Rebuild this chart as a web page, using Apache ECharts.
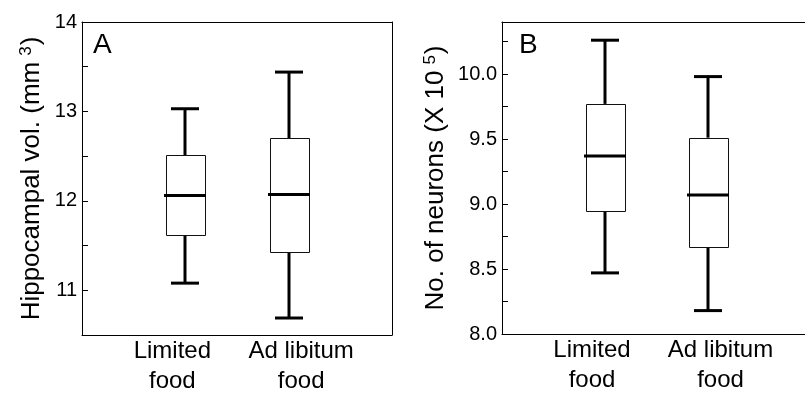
<!DOCTYPE html>
<html>
<head>
<meta charset="utf-8">
<script src="https://cdn.jsdelivr.net/npm/echarts@6/dist/echarts.min.js"></script>
<style>
    html, body { margin: 0; padding: 0; background: #fff; overflow: hidden; }
    #chart { width: 805px; height: 394px; }
</style>
</head>
<body>
<div id="chart"></div>
<script>
// groups on the x axis
var categories = ['Limited\nfood', 'Ad libitum\nfood'];

// [min, Q1, median, Q3, max] per group
var volumeStats = [
    [11.08, 11.62, 12.06, 12.51, 13.03],
    [10.69, 11.42, 12.07, 12.70, 13.44]
];
var neuronStats = [
    [8.47, 8.95, 9.37, 9.77, 10.26],
    [8.18, 8.67, 9.07, 9.51, 9.98]
];

// y axis ranges and ticks
var volumeAxis = {min: 10.5, max: 14, interval: 0.5, labelStep: 1, digits: 0};
var neuronAxis = {min: 8.0, max: 10.4, interval: 0.25, labelStep: 0.5, digits: 1};

var FONT = '"Liberation Sans", Arial, Helvetica, sans-serif';

var myChart = echarts.init(document.getElementById('chart'), null, {renderer: 'canvas'});

// boxes are drawn via the coordinate system of each grid
function renderBox(params, api) {
    var x = api.value(0);
    var pMin = api.coord([x, api.value(1)]);
    var pQ1 = api.coord([x, api.value(2)]);
    var pMed = api.coord([x, api.value(3)]);
    var pQ3 = api.coord([x, api.value(4)]);
    var pMax = api.coord([x, api.value(5)]);
    var cx = Math.round(pMed[0]);
    var boxHalf = 19.5;
    var capHalf = 14;
    var medHalf = 21;
    var r = function (v) { return Math.round(v) + 0.5; };
    var thick = {stroke: '#000', lineWidth: 3};
    return {
        type: 'group',
        children: [
            {type: 'line', shape: {x1: cx, y1: pMax[1], x2: cx, y2: pQ3[1]}, style: thick},
            {type: 'line', shape: {x1: cx, y1: pQ1[1], x2: cx, y2: pMin[1]}, style: thick},
            {type: 'line', shape: {x1: cx - capHalf, y1: pMax[1], x2: cx + capHalf, y2: pMax[1]}, style: thick},
            {type: 'line', shape: {x1: cx - capHalf, y1: pMin[1], x2: cx + capHalf, y2: pMin[1]}, style: thick},
            {
                type: 'rect',
                shape: {x: r(cx - boxHalf), y: r(pQ3[1]), width: Math.round(boxHalf * 2), height: Math.round(pQ1[1] - pQ3[1])},
                style: {fill: '#fff', stroke: '#111', lineWidth: 1}
            },
            {type: 'line', shape: {x1: cx - medHalf, y1: pMed[1], x2: cx + medHalf, y2: pMed[1]}, style: thick}
        ]
    };
}

function toBoxData(stats) {
    return stats.map(function (s, i) { return [i + 1].concat(s); });
}

var axisLine = {show: true, lineStyle: {color: '#000', width: 1}};

function makeXAxis(gridIndex) {
    return {
        type: 'category',
        gridIndex: gridIndex,
        data: [''].concat(categories, ['']),
        boundaryGap: false,
        axisLine: axisLine,
        axisTick: {show: false},
        splitLine: {show: false},
        axisLabel: {
            interval: 0,
            margin: 1,
            fontFamily: FONT,
            fontSize: 24,
            lineHeight: 30,
            color: '#000',
            formatter: function (v, idx) {
                if (!v) return '';
                var key = idx === 1 ? 'a' : 'b';
                return v.split('\n').map(function (line) { return '{' + key + '|' + line + '}'; }).join('\n');
            },
            rich: {
                a: {fontFamily: FONT, fontSize: 24, lineHeight: 30, color: '#000', padding: [0, 26, 0, 0]},
                b: {fontFamily: FONT, fontSize: 24, lineHeight: 30, color: '#000', padding: [0, 0, 0, 25]}
            }
        }
    };
}

function makeYAxis(gridIndex, ax, name, sup, nameGap) {
    return {
        type: 'value',
        gridIndex: gridIndex,
        min: ax.min,
        max: ax.max,
        interval: ax.interval,
        axisLine: axisLine,
        axisTick: {show: true, inside: true, length: 6, lineStyle: {color: '#000', width: 1}},
        splitLine: {show: false},
        axisLabel: {
            margin: 5,
            fontFamily: FONT,
            fontSize: 20,
            color: '#000',
            showMaxLabel: true,
            formatter: function (v) {
                var k = v / ax.labelStep;
                if (Math.abs(k - Math.round(k)) > 1e-6) return '';
                return v.toFixed(ax.digits);
            }
        },
        name: '{t|' + name + '}{s|' + sup + '}{t|)}',
        nameLocation: 'middle',
        nameGap: nameGap,
        nameTextStyle: {
            rich: {
                t: {fontFamily: FONT, fontSize: 26, color: '#000'},
                s: {fontFamily: FONT, fontSize: 17, color: '#000', verticalAlign: 'top', padding: [0, 1, 10, 6]}
            }
        }
    };
}

// top and right edges of the frame (panel B's right edge is off the page)
function frameX(gridIndex) {
    return {type: 'category', gridIndex: gridIndex, position: 'top', data: [''].concat(categories, ['']),
        boundaryGap: false, axisLine: axisLine, axisTick: {show: false}, axisLabel: {show: false}, splitLine: {show: false}};
}
function frameY(gridIndex, ax) {
    return {type: 'value', gridIndex: gridIndex, position: 'right', min: ax.min, max: ax.max,
        axisLine: axisLine, axisTick: {show: false}, axisLabel: {show: false}, splitLine: {show: false}};
}

var option = {
    animation: false,
    backgroundColor: '#fff',
    grid: [
        {left: 82, top: 22, width: 310, height: 313, outerBoundsMode: 'none', containLabel: false},
        {left: 502, top: 22, width: 309, height: 312, outerBoundsMode: 'none', containLabel: false}
    ],
    xAxis: [makeXAxis(0), makeXAxis(1), frameX(0), frameX(1)],
    yAxis: [
        makeYAxis(0, volumeAxis, 'Hippocampal vol. (mm', '3', 37),
        makeYAxis(1, neuronAxis, 'No. of neurons (X 10', '5', 53),
        frameY(0, volumeAxis)
    ],
    graphic: [
        {type: 'text', left: 93, top: 31, style: {text: 'A', font: '28px ' + FONT, fill: '#000'}},
        {type: 'text', left: 519, top: 31, style: {text: 'B', font: '28px ' + FONT, fill: '#000'}}
    ],
    series: [
        {type: 'custom', xAxisIndex: 0, yAxisIndex: 0, renderItem: renderBox, data: toBoxData(volumeStats), encode: {x: 0, y: [1, 2, 3, 4, 5]}},
        {type: 'custom', xAxisIndex: 1, yAxisIndex: 1, renderItem: renderBox, data: toBoxData(neuronStats), encode: {x: 0, y: [1, 2, 3, 4, 5]}}
    ]
};
myChart.setOption(option);
</script>
</body>
</html>
